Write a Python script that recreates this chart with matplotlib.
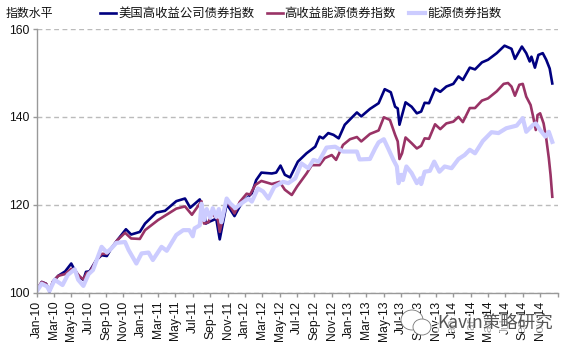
import matplotlib
matplotlib.use("Agg")
import matplotlib.pyplot as plt
from matplotlib.lines import Line2D
from matplotlib.patches import Ellipse

CJK = ['Noto Sans CJK SC', 'DejaVu Sans']
plt.rcParams['font.family'] = ['Liberation Sans', 'DejaVu Sans']

tick_labels = ["Jan-10","Mar-10","May-10","Jul-10","Sep-10","Nov-10","Jan-11","Mar-11","May-11","Jul-11",
               "Sep-11","Nov-11","Jan-12","Mar-12","May-12","Jul-12","Sep-12","Nov-12","Jan-13","Mar-13",
               "May-13","Jul-13","Sep-13","Nov-13","Jan-14","Mar-14","May-14","Jul-14","Sep-14","Nov-14",""]
y_ticks = [100, 120, 140, 160]

# months since Jan-10, index level
navy_m = [0,.6,1.1,1.5,1.9,2.5,3.3,4,4.4,5,5.4,5.7,6.1,6.9,7.5,8.1,8.6,9.3,10.3,10.9,11.9,12.5,13.8,14.8,16.1,17.1,17.7,18.8,19.3,19.5,20,20.7,21.1,21.9,22.8,23.6,24.8,25.3,25.9,27.1,27.6,28.1,28.6,29.2,30.1,31.1,32.1,32.6,33,33.6,34.2,34.8,35.5,35.9,36.9,37.4,38.4,39.4,40.1,40.8,41.3,41.6,41.8,42.1,42.5,43.2,43.8,44.3,44.7,45.2,45.9,46.5,47.2,48,48.6,49.1,49.9,50.5,51.3,52,53,53.9,54.7,55.1,55.9,56.4,56.8,57,57.4,57.8,58.3,58.7,59.1,59.4]
navy_v = [100.2,102.4,102,100.2,102.5,103.8,104.8,106.6,105.1,103.4,102.9,104.7,104.8,107.4,108.5,108.3,110,111.9,114.4,113.2,113.8,115.7,118.2,118.6,120.8,121.4,119.3,121.2,118,115.7,116.2,116.8,112.1,120.2,117.4,120.3,122.6,125.6,127.3,127.1,127.3,128.9,126.8,126.2,129.8,131.7,133.2,135.5,135.1,136.3,135.9,135.1,138.2,139,141,140.1,141.8,143.1,146.3,145.6,142.3,141.9,138.2,140.4,143.3,142.3,140.8,141.2,143.2,143.1,146.4,145.7,146.9,147.5,149.2,148.4,151.2,150.8,152.4,153,154.5,156.2,155.5,153.2,156,154.5,152.6,153.7,151.2,154.1,154.5,153,151,147.6]

maroon_m = [0,.6,1.1,1.5,1.9,2.5,3.3,4,4.4,5,5.4,5.8,6.1,6.9,7.5,8.1,8.6,9.3,10.2,10.9,11.9,12.5,14,16.1,17.1,17.9,19,19.3,19.8,20.2,20.9,21.1,21.9,22.8,23.4,24.2,24.6,25.2,25.9,27.1,28,28.6,29.4,30,31.1,31.7,32.6,33.2,34,34.5,35.3,36.1,36.9,37.4,38.4,39.4,40,40.7,41.3,41.6,41.8,42.1,42.5,43.2,43.8,44.3,44.7,45.2,45.9,46.5,47.2,48,48.6,49.1,49.9,50.5,51.3,52,53,53.8,54.3,54.7,55.1,55.6,56,56.4,56.9,57.2,57.5,57.7,58,58.4,58.7,59,59.2,59.4]
maroon_v = [100.6,102.4,102,100.5,102.5,103.8,104.2,105.4,105,103.6,103,104.5,104.5,107.4,108.8,108.8,110,111.9,113.6,112.3,112.2,114.2,116.5,119.1,119.6,117.7,120.8,115.7,116,118,116.5,113.8,121,118,120.6,122.5,122.3,124.5,125.4,124.7,125.2,123.4,122.2,124.1,127.1,129,129,130.6,131.3,130.2,133.6,134.9,135.4,134.4,136.1,136.9,139.9,139.3,135.9,134.4,130.4,131.7,135.3,134,132.8,133.4,135.1,135,138.3,137.2,138.5,138.9,140,138.8,142,142,143.7,144.2,145.8,147.5,147.7,146.9,144.8,147.3,147.5,144.6,142.7,140,137,140.4,140.8,138.5,135.1,130.6,126.8,121.8]

light_m = [0,.6,1.2,1.5,2.1,3,3.6,4.4,4.8,5.4,6,6.5,7.5,8.1,8.6,9.2,10.2,10.6,11.5,12.1,12.9,13.4,14.4,15,16.1,16.9,17.6,18,18.2,18.8,19,19.3,19.6,20,20.3,20.7,21,21.3,21.9,22.3,22.9,23.6,24.4,24.8,25.5,26.1,26.7,27.4,28.4,29,29.8,30.5,31.3,31.9,32.5,33.4,34.4,35.3,36.9,37.2,38.4,39,39.4,40,40.5,41.1,41.5,41.7,42,42.2,42.6,43.2,43.8,44.2,44.3,44.7,45.3,45.8,46.4,47,47.8,48.6,49.3,49.9,50.5,51.4,52.4,53.2,54.1,55.3,56,56.4,57.2,57.5,58,58.6,59,59.4]
light_v = [100.2,102,101.4,100.4,102.9,101.7,104,105.3,102.9,101.5,104.2,105.1,110.4,109.1,110,111.3,111.5,109.7,106.6,108.9,109.1,107.4,110.4,109.5,113.1,114.2,114.2,112.8,114.6,115.3,120.2,116.5,119,117,119.2,117.2,119,116,121.4,120.3,119.2,120.3,121.4,120.7,123.7,123,121.4,124.1,125.2,124.9,126,129.4,128.3,130.2,129.8,133,133.2,132.1,132.1,130.3,130.4,132.8,134.2,134.9,132.8,130.2,128.7,124.9,126.8,125.6,128.7,127.2,124.9,126,124.7,127.5,127.7,129.8,127.5,128.7,128.3,130.4,131.3,132.5,131.7,134.5,136.5,136.3,137.4,138,139.7,136.6,138.2,138.5,137,135.5,136.6,134.3]

names = ["美国高收益公司债券指数", "高收益能源债券指数", "能源债券指数"]
colors = ["#000080", "#993366", "#CCCCFF"]

W, H = 579, 353
fig = plt.figure(figsize=(W/100, H/100), dpi=100)
ax = fig.add_axes([36.5/W, 1-292.5/H, 521/W, 263.5/H])

ax.plot(navy_m, navy_v, color=colors[0], lw=1.9, solid_joinstyle='round')
ax.plot(maroon_m, maroon_v, color=colors[1], lw=1.9, solid_joinstyle='round')
ax.plot(light_m, light_v, color=colors[2], lw=3.0, solid_joinstyle='round')

ax.set_xlim(0, 60)
ax.set_ylim(100, 160)
ax.set_xticks(range(0, 61, 2))
ax.set_xticklabels(tick_labels, rotation=90, fontsize=8.7, color='#111111')
ax.set_yticks(y_ticks)
ax.tick_params(axis='y', labelsize=8.7, length=3, width=1, color='#999999', pad=2, labelcolor='#111111')
ax.tick_params(axis='x', length=3, width=1, color='#999999', pad=3)
ax.grid(axis='y', color='#BBBBBB', lw=1, linestyle=(0, (3.5, 2.5)))
ax.set_axisbelow(True)
for s in ('top', 'right'):
    ax.spines[s].set_visible(False)
for s in ('left', 'bottom'):
    ax.spines[s].set_color('#999999')
    ax.spines[s].set_linewidth(1)

def ftext(px, py, s, **kw):
    t = fig.text(px/W, 1-py/H, s, va='center', ha='left', family=CJK, **kw)
    t.set_zorder(10)
    return t

ftext(6, 13, "指数水平", fontsize=8.6, color='#111111')
for x0, x1, xt, name, c, lw in [(100, 116, 118, names[0], colors[0], 1.9),
                               (267, 283, 284, names[1], colors[1], 1.9),
                               (409, 425, 427, names[2], colors[2], 3.0)]:
    fig.add_artist(Line2D([x0/W, x1/W], [1-13/H, 1-13/H], color=c, lw=lw))
    ftext(xt, 13, name, fontsize=8.9, color='#111111')

# watermark
for cx, cy, rx, ry in [(412, 320, 11, 10), (422, 327, 9, 8)]:
    e = Ellipse((cx/W, 1-cy/H), 2*rx/W, 2*ry/H, transform=fig.transFigure,
                fc='white', ec='#777777', lw=0.6, zorder=9)
    fig.add_artist(e)
ftext(437, 323, "Kavin策略研究", fontsize=12.6, color='#555555',
      bbox=dict(fc='white', ec='none', alpha=0.65, pad=0))

fig.savefig("out.png", dpi=100)
